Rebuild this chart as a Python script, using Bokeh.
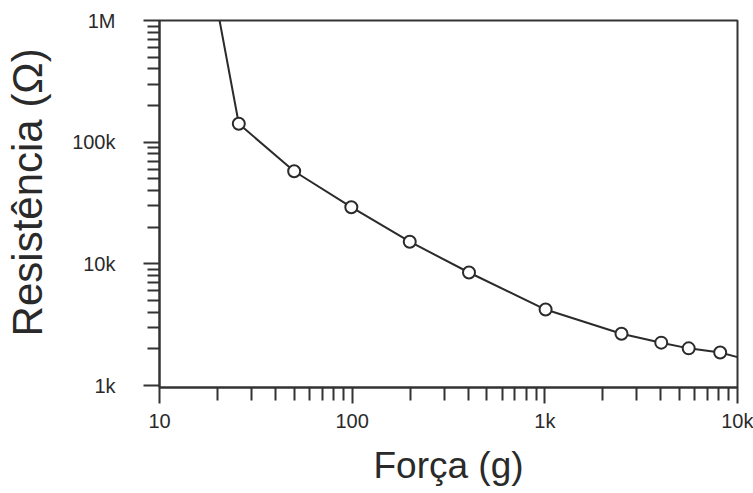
from bokeh.plotting import figure
from bokeh.models import Range1d, FixedTicker
from bokeh.embed import file_html
from bokeh.resources import INLINE

# Data
force = [25.8, 50, 99, 199, 404, 1009, 2500, 4020, 5580, 8130]          # g
resistance = [141600, 57700, 29200, 15200, 8490, 4210, 2660, 2250, 2020, 1870]  # ohm
curve_force = [20.5] + force + [10000]
curve_resistance = [1000000] + resistance + [1710]

x_ticks = [10, 100, 1000, 10000]
x_tick_labels = ["10", "100", "1k", "10k"]
y_ticks = [1000, 10000, 100000, 1000000]
y_tick_labels = ["1k", "10k", "100k", "1M"]

x_minor = [m * d for d in [10, 100, 1000] for m in range(2, 10)]
y_minor = [m * d for d in [1000, 10000, 100000] for m in range(2, 10)]

FONT = "Liberation Sans"
TXT = "#2a2a2a"

p = figure(width=753, height=493, x_axis_type="log", y_axis_type="log",
           x_range=Range1d(10, 10000), y_range=Range1d(963, 1000000),
           output_backend="svg", toolbar_location=None,
           min_border_left=159, min_border_right=16,
           min_border_top=20, min_border_bottom=106)

p.background_fill_color = "white"
p.border_fill_color = "white"
p.outline_line_color = "#333333"
p.outline_line_width = 2
p.grid.visible = False

# Axes
for ax in (p.xaxis[0], p.yaxis[0]):
    ax.axis_line_color = "#333333"
    ax.axis_line_width = 2
    ax.major_tick_line_color = "#333333"
    ax.major_tick_line_width = 2
    ax.minor_tick_line_color = "#333333"
    ax.minor_tick_line_width = 2
    ax.major_tick_in = 0
    ax.minor_tick_in = 0
    ax.major_label_text_font = FONT
    ax.major_label_text_font_size = "20px"
    ax.major_label_text_color = TXT
    ax.axis_label_text_font = FONT
    ax.axis_label_text_font_style = "normal"
    ax.axis_label_text_color = TXT

p.xaxis.ticker = FixedTicker(ticks=x_ticks, minor_ticks=x_minor)
p.xaxis.major_label_overrides = {t: l for t, l in zip(x_ticks, x_tick_labels)}
p.xaxis.major_tick_out = 16
p.xaxis.minor_tick_out = 13
p.xaxis.major_label_standoff = 6
p.xaxis.axis_label = "Força (g)"
p.xaxis.axis_label_text_font_size = "37px"
p.xaxis.axis_label_standoff = 10

p.yaxis.ticker = FixedTicker(ticks=y_ticks, minor_ticks=y_minor)
p.yaxis.major_label_overrides = {t: l for t, l in zip(y_ticks, y_tick_labels)}
p.yaxis.major_tick_out = 16
p.yaxis.minor_tick_out = 12
p.yaxis.major_label_standoff = 28
p.yaxis.major_label_orientation = "horizontal"
p.yaxis.axis_label = "\u00a0\u00a0Resistência (Ω)"
p.yaxis.axis_label_text_font_size = "42px"
p.yaxis.axis_label_standoff = 18

# Curve and markers
p.line(curve_force, curve_resistance, line_color="#2b2b2b", line_width=2)
p.scatter(force, resistance, size=12, marker="circle",
          fill_color="white", line_color="#2b2b2b", line_width=2)

open("out.html", "w").write(file_html(p, INLINE))
